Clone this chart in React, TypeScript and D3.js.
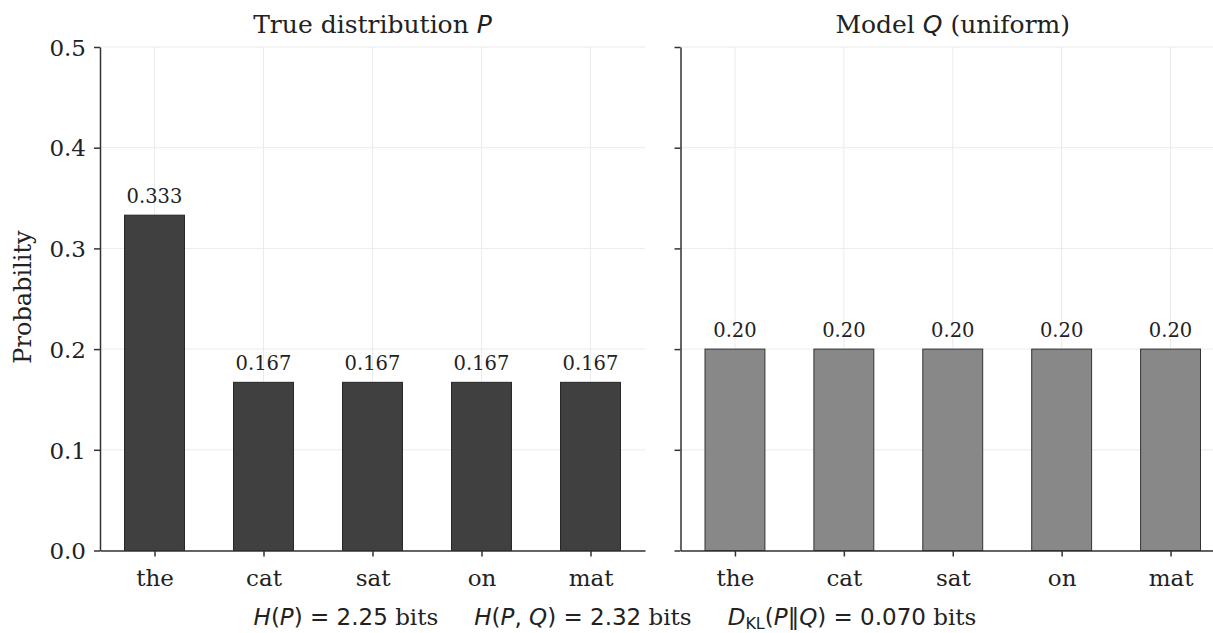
import React, { useEffect, useRef } from 'react';
import * as d3 from 'd3';

const words = ['the', 'cat', 'sat', 'on', 'mat'];
const pValues = [0.333, 0.167, 0.167, 0.167, 0.167];
const qValues = [0.2, 0.2, 0.2, 0.2, 0.2];
const pLabels = ['0.333', '0.167', '0.167', '0.167', '0.167'];
const qLabels = ['0.20', '0.20', '0.20', '0.20', '0.20'];
const yTicks = [0, 0.1, 0.2, 0.3, 0.4, 0.5];
const yTickLabels = ['0.0', '0.1', '0.2', '0.3', '0.4', '0.5'];

const W = 1213;
const H = 633;
const SERIF = '"DejaVu Serif", serif';
const SANS = '"DejaVu Sans", sans-serif';
const INK = '#222';

type Piece = { t: string; italic?: boolean; sans?: boolean };

const drawPanel = (
  svg: d3.Selection<SVGSVGElement, unknown, null, undefined>,
  x0: number,
  x1: number,
  values: number[],
  labels: string[],
  fill: string,
  stroke: string,
  title: Piece[],
  showYLabels: boolean
) => {
  const x = d3.scaleLinear().domain([-0.5, 4.5]).range([x0, x1]);
  const y = d3.scaleLinear().domain([0, 0.5]).range([550.5, 47]);
  const barW = 0.55;
  const g = svg.append('g');

  // grid
  g.selectAll('.hgrid')
    .data(yTicks)
    .enter()
    .append('line')
    .attr('x1', x0)
    .attr('x2', x1)
    .attr('y1', d => y(d))
    .attr('y2', d => y(d))
    .attr('stroke', '#ebebeb')
    .attr('stroke-width', 1);
  g.selectAll('.vgrid')
    .data(words.map((_, i) => i))
    .enter()
    .append('line')
    .attr('x1', d => x(d))
    .attr('x2', d => x(d))
    .attr('y1', y(0))
    .attr('y2', y(0.5))
    .attr('stroke', '#ebebeb')
    .attr('stroke-width', 1);

  // bars
  g.selectAll('.bar')
    .data(values)
    .enter()
    .append('rect')
    .attr('x', (_, i) => x(i - barW / 2))
    .attr('width', x(barW) - x(0))
    .attr('y', d => y(d))
    .attr('height', d => y(0) - y(d))
    .attr('fill', fill)
    .attr('stroke', stroke)
    .attr('stroke-width', 1);

  // value labels
  g.selectAll('.val')
    .data(values)
    .enter()
    .append('text')
    .attr('x', (_, i) => x(i))
    .attr('y', d => y(d) - 12)
    .attr('text-anchor', 'middle')
    .style('font-family', SERIF)
    .style('font-size', '19.5px')
    .style('fill', INK)
    .text((_, i) => labels[i]);

  // axes
  const yAxis = d3
    .axisLeft(y)
    .tickValues(yTicks)
    .tickSize(6)
    .tickSizeOuter(0)
    .tickPadding(8)
    .tickFormat((d, i) => (showYLabels ? yTickLabels[i] : ''));
  const ya = g.append('g').attr('transform', `translate(${x0},0)`).call(yAxis);

  const xAxis = d3
    .axisBottom(x)
    .tickValues(words.map((_, i) => i))
    .tickSize(6)
    .tickSizeOuter(0)
    .tickPadding(12)
    .tickFormat((d, i) => words[i]);
  const xa = g.append('g').attr('transform', `translate(0,${y(0)})`).call(xAxis);

  [ya, xa].forEach(a => {
    a.select('.domain').attr('stroke', '#333').attr('stroke-width', 1.5);
    a.selectAll('.tick line').attr('stroke', '#333').attr('stroke-width', 1.5);
    a.selectAll('.tick text')
      .style('font-family', SERIF)
      .style('font-size', '23px')
      .style('fill', INK);
  });
  ya.selectAll('.tick text').attr('dy', '0.36em');
  xa.selectAll('.tick text').attr('dy', '0.76em');

  // title
  const t = g
    .append('text')
    .attr('x', (x0 + x1) / 2)
    .attr('y', 33)
    .attr('text-anchor', 'middle')
    .style('font-size', '25px')
    .style('fill', INK);
  title.forEach(p => {
    t.append('tspan')
      .style('font-family', p.sans ? SANS : SERIF)
      .style('font-style', p.italic ? 'italic' : 'normal')
      .text(p.t);
  });
};

const App = () => {
  const svgRef = useRef<SVGSVGElement>(null);

  useEffect(() => {
    const svg = d3.select(svgRef.current!);
    svg.selectAll('*').remove();

    drawPanel(svg, 100, 645, pValues, pLabels, '#404040', '#262626',
      [{ t: 'True distribution ' }, { t: 'P', italic: true, sans: true }], true);
    drawPanel(svg, 680.5, 1225, qValues, qLabels, '#888888', '#333333',
      [{ t: 'Model ' }, { t: 'Q', italic: true, sans: true }, { t: ' (uniform)' }], false);

    // y label
    svg.append('text')
      .attr('transform', 'translate(31,297) rotate(-90)')
      .attr('text-anchor', 'middle')
      .style('font-family', SERIF)
      .style('font-size', '24px')
      .style('fill', INK)
      .text('Probability');

    // footer with the entropy numbers
    const f = svg.append('text')
      .attr('x', 615)
      .attr('y', 625)
      .attr('text-anchor', 'middle')
      .style('font-size', '23px')
      .style('fill', INK);
    const add = (s: string, opts: { italic?: boolean; serif?: boolean; dx?: number; dy?: number; size?: number } = {}) => {
      const ts = f.append('tspan')
        .style('font-family', opts.serif ? SERIF : SANS)
        .style('font-style', opts.italic ? 'italic' : 'normal')
        .text(s);
      if (opts.dx) ts.attr('dx', opts.dx);
      if (opts.dy) ts.attr('dy', opts.dy);
      if (opts.size) ts.style('font-size', `${opts.size}px`);
    };
    add('H', { italic: true });
    add('(');
    add('P', { italic: true });
    add(') = 2.25 ');
    add('bits', { serif: true });
    add('H', { italic: true, dx: 36 });
    add('(');
    add('P', { italic: true });
    add(', ');
    add('Q', { italic: true });
    add(') = 2.32 ');
    add('bits', { serif: true });
    add('D', { italic: true, dx: 36 });
    add('KL', { size: 16, dy: 4 });
    add('(', { dy: -4 });
    add('P', { italic: true });
    add('\u2016');
    add('Q', { italic: true });
    add(') = 0.070 ');
    add('bits', { serif: true });
  }, []);

  return (
    <svg
      ref={svgRef}
      width={W}
      height={H}
      style={{ position: 'absolute', left: 0, top: 0, background: '#fff' }}
    />
  );
};

export default App;
